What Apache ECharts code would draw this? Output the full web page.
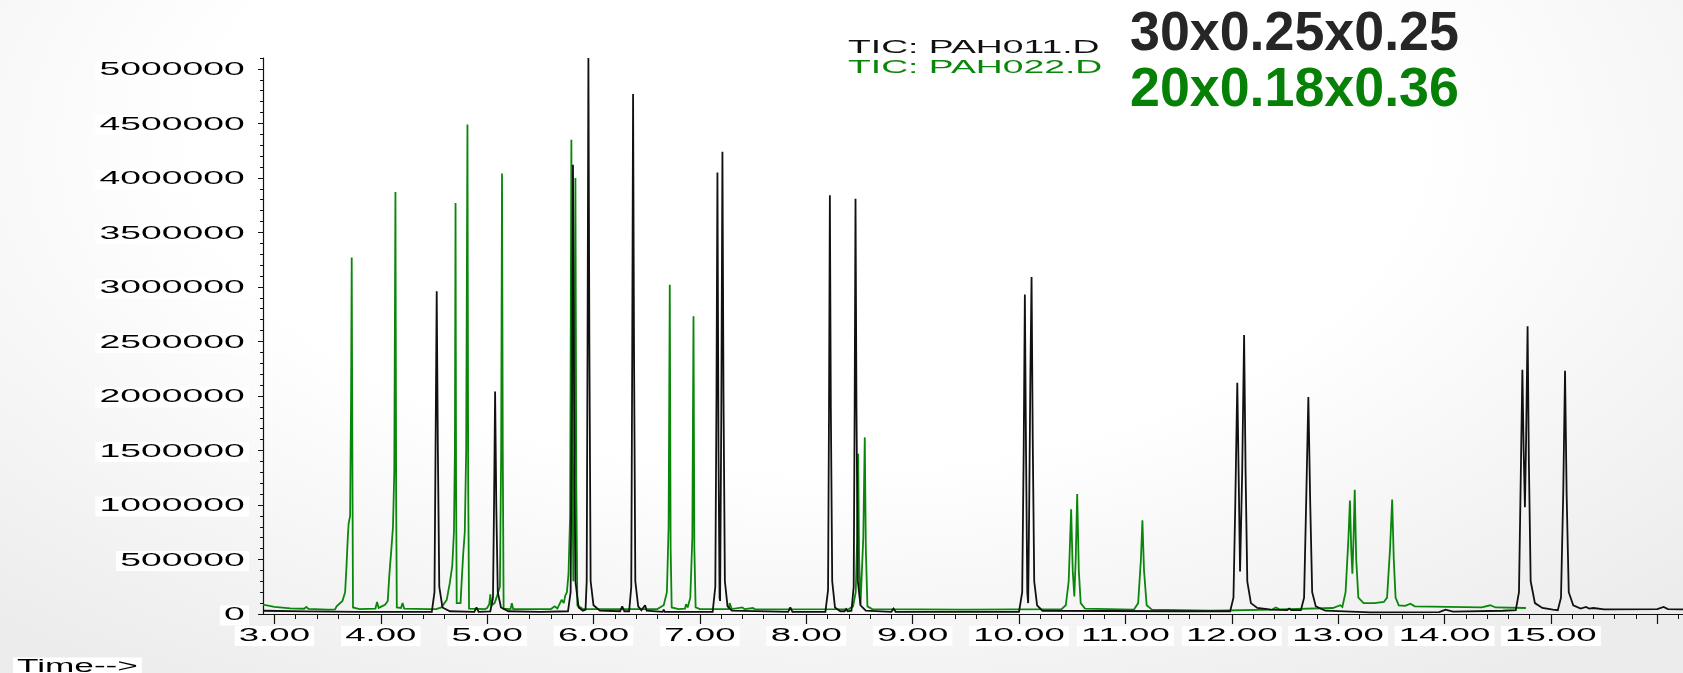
<!DOCTYPE html>
<html>
<head>
<meta charset="utf-8">
<script src="https://cdn.jsdelivr.net/npm/echarts@6/dist/echarts.min.js"></script>
<style>
  html, body { margin: 0; padding: 0; }
  #chart {
    width: 1683px; height: 673px;
    background: radial-gradient(ellipse 72% 95% at 48% 22%, #ffffff 50%, #ececec 100%);
  }
</style>
</head>
<body>
<div id="chart"></div>
<script>
// Retention-time axis (minutes)
const xMin = 2.893;
const xMax = 16.242;
const xMajorTicks = [3, 4, 5, 6, 7, 8, 9, 10, 11, 12, 13, 14, 15, 16];
const xTickLabels = ['3.00', '4.00', '5.00', '6.00', '7.00', '8.00', '9.00', '10.00', '11.00', '12.00', '13.00', '14.00', '15.00'];

// Abundance axis
const yMax = 5100000;
const yTickValues = [0, 500000, 1000000, 1500000, 2000000, 2500000, 3000000, 3500000, 4000000, 4500000, 5000000];
const yTickLabels = ['0', '500000', '1000000', '1500000', '2000000', '2500000', '3000000', '3500000', '4000000', '4500000', '5000000'];

// TIC: PAH011.D  (time, abundance)
const pah011 = [
  [2.893, 30000], [3.3, 24000], [3.8, 20000], [4.3, 20000], [4.48, 20000],
  [4.505, 200000], [4.515, 1500000], [4.526, 2960000], [4.537, 1500000], [4.55, 250000], [4.58, 60000], [4.65, 25000],
  [4.88, 20000], [4.9, 60000], [4.92, 20000],
  [5.03, 25000], [5.055, 150000], [5.065, 1000000], [5.075, 2040000], [5.086, 1000000], [5.1, 200000], [5.13, 60000], [5.2, 25000],
  [5.5, 20000], [5.76, 25000], [5.785, 200000], [5.797, 2000000], [5.807, 4120000], [5.817, 2000000], [5.83, 300000], [5.86, 60000], [5.9, 30000],
  [5.925, 40000], [5.936, 300000], [5.944, 2500000], [5.952, 5100000], [5.961, 2500000], [5.973, 300000], [6.0, 80000], [6.06, 30000],
  [6.25, 25000], [6.27, 70000], [6.29, 25000],
  [6.335, 25000], [6.355, 250000], [6.364, 2400000], [6.372, 4770000], [6.381, 2400000], [6.393, 300000], [6.42, 70000], [6.45, 35000],
  [6.468, 30000], [6.485, 80000], [6.5, 30000],
  [6.65, 20000], [6.66, 40000], [6.67, 20000], [7.12, 20000],
  [7.145, 250000], [7.156, 2000000], [7.165, 4050000], [7.175, 1500000], [7.185, 150000], [7.19, 120000],
  [7.201, 1800000], [7.212, 4240000], [7.222, 2000000], [7.235, 300000], [7.26, 70000], [7.3, 30000],
  [7.83, 20000], [7.85, 60000], [7.87, 20000],
  [8.18, 20000], [8.205, 220000], [8.214, 1900000], [8.222, 3840000], [8.231, 1900000], [8.244, 300000], [8.27, 60000], [8.32, 25000],
  [8.36, 25000], [8.375, 45000], [8.39, 25000],
  [8.425, 30000], [8.446, 250000], [8.455, 1900000], [8.463, 3810000], [8.472, 1900000], [8.485, 300000], [8.51, 80000], [8.56, 30000],
  [8.8, 20000], [8.82, 50000], [8.84, 20000],
  [10.0, 20000], [10.03, 200000], [10.044, 1500000], [10.055, 2930000], [10.066, 1500000], [10.078, 200000], [10.086, 100000],
  [10.096, 1000000], [10.107, 2200000], [10.118, 3090000], [10.129, 1600000], [10.143, 300000], [10.17, 80000], [10.22, 30000],
  [11.5, 25000], [11.985, 25000],
  [12.016, 150000], [12.033, 1000000], [12.052, 2120000], [12.066, 1200000], [12.078, 390000], [12.098, 1300000], [12.116, 2560000],
  [12.13, 1300000], [12.146, 300000], [12.18, 100000], [12.24, 55000], [12.37, 40000],
  [12.52, 35000], [12.54, 50000], [12.56, 35000],
  [12.65, 35000], [12.68, 150000], [12.699, 1000000], [12.72, 1990000], [12.738, 1000000], [12.756, 200000], [12.79, 70000], [12.88, 30000],
  [13.3, 15000], [13.95, 18000], [14.01, 40000], [14.08, 22000], [14.55, 30000], [14.67, 35000],
  [14.7, 200000], [14.716, 1200000], [14.732, 2240000], [14.744, 1500000], [14.756, 980000], [14.767, 1600000], [14.781, 2640000],
  [14.793, 1400000], [14.81, 300000], [14.85, 100000], [14.92, 55000], [15.02, 40000],
  [15.065, 35000], [15.095, 150000], [15.116, 1100000], [15.133, 2230000], [15.148, 1100000], [15.168, 200000], [15.21, 80000], [15.28, 50000],
  [15.33, 65000], [15.36, 50000], [15.4, 55000], [15.5, 42000], [16.0, 45000], [16.06, 65000], [16.1, 45000], [16.242, 42000]
];

// TIC: PAH022.D  (time, abundance)
const pah022 = [
  [2.893, 85000], [3.0, 65000], [3.15, 52000], [3.28, 48000], [3.3, 65000], [3.32, 46000], [3.5, 40000], [3.57, 42000],
  [3.585, 70000], [3.6, 60000], [3.64, 120000], [3.665, 200000], [3.677, 420000], [3.69, 700000], [3.698, 830000], [3.712, 900000],
  [3.721, 2000000], [3.727, 3270000], [3.733, 1500000], [3.739, 60000], [3.8, 45000],
  [3.95, 50000], [3.965, 110000], [3.98, 55000], [4.0, 65000], [4.04, 85000], [4.066, 120000], [4.08, 350000], [4.1, 600000],
  [4.115, 800000], [4.127, 1300000], [4.138, 3870000], [4.145, 1000000], [4.151, 60000], [4.19, 55000], [4.205, 100000], [4.22, 50000],
  [4.45, 45000], [4.52, 45000],
  [4.57, 60000], [4.62, 130000], [4.65, 290000], [4.672, 440000], [4.688, 750000], [4.697, 1500000], [4.703, 3770000], [4.708, 1200000],
  [4.714, 100000], [4.75, 100000], [4.76, 290000], [4.775, 550000], [4.79, 750000], [4.803, 1500000], [4.815, 4490000], [4.822, 1200000], [4.83, 50000],
  [4.98, 45000], [5.0, 55000], [5.02, 90000], [5.03, 180000], [5.04, 80000], [5.07, 100000], [5.088, 150000], [5.12, 250000],
  [5.132, 1500000], [5.14, 4040000], [5.147, 1500000], [5.155, 50000], [5.22, 45000], [5.232, 100000], [5.245, 45000],
  [5.6, 45000], [5.635, 70000], [5.66, 50000],
  [5.7, 130000], [5.72, 100000], [5.735, 170000], [5.75, 200000], [5.765, 370000], [5.78, 900000], [5.792, 4350000], [5.8, 1500000],
  [5.81, 300000], [5.82, 1500000], [5.83, 4000000], [5.838, 1200000], [5.848, 80000], [5.9, 45000],
  [6.14, 45000], [6.15, 60000], [6.16, 45000],
  [6.6, 45000], [6.66, 80000], [6.69, 200000], [6.706, 800000], [6.717, 3020000], [6.725, 600000], [6.735, 60000], [6.8, 45000],
  [6.86, 50000], [6.87, 90000], [6.885, 60000], [6.91, 150000], [6.929, 700000], [6.94, 2730000], [6.948, 600000], [6.96, 60000], [7.0, 45000],
  [7.27, 45000], [7.28, 100000], [7.3, 45000], [7.4, 60000], [7.42, 45000], [7.5, 55000], [7.52, 42000],
  [8.4, 45000], [8.44, 70000], [8.465, 200000], [8.479, 700000], [8.488, 1470000], [8.497, 500000], [8.51, 90000],
  [8.52, 100000], [8.536, 700000], [8.55, 1620000], [8.56, 600000], [8.575, 70000], [8.62, 45000],
  [9.5, 40000], [10.4, 45000], [10.44, 80000], [10.467, 300000], [10.49, 960000], [10.505, 400000], [10.52, 160000],
  [10.533, 500000], [10.547, 1100000], [10.562, 400000], [10.58, 100000], [10.62, 50000],
  [11.08, 40000], [11.12, 100000], [11.146, 500000], [11.16, 860000], [11.175, 400000], [11.2, 80000], [11.25, 40000],
  [11.8, 30000], [12.38, 40000], [12.414, 60000], [12.45, 42000], [12.95, 55000], [13.02, 80000], [13.04, 65000],
  [13.07, 200000], [13.097, 700000], [13.111, 1040000], [13.123, 600000], [13.134, 370000], [13.145, 700000], [13.156, 1140000],
  [13.17, 500000], [13.19, 150000], [13.24, 100000], [13.34, 100000], [13.43, 110000],
  [13.46, 150000], [13.488, 600000], [13.508, 1050000], [13.523, 500000], [13.54, 150000], [13.57, 80000], [13.63, 75000],
  [13.68, 95000], [13.72, 70000], [14.35, 60000], [14.43, 80000], [14.48, 60000], [14.765, 55000]
];

// Minor ticks: five subdivisions per major interval
const xMinorTicks = [];
xMajorTicks.forEach(function (t) {
  for (let k = 1; k < 5; k++) {
    const v = +(t + k * 0.2).toFixed(2);
    if (v <= xMax) xMinorTicks.push(v);
  }
});
const yMinorTicks = [];
for (let i = 0; i < yTickValues.length; i++) {
  for (let k = 1; k < 5; k++) {
    const v = yTickValues[i] + k * 100000;
    if (v <= yMax) yMinorTicks.push(v);
  }
}

const INK = '#111111';
const GREEN = '#0a870a';
const LABEL_FONT = '17.6px "Liberation Sans", Arial, sans-serif';
const BIG_FONT = 'bold 56px "Liberation Sans", Arial, sans-serif';

const chart = echarts.init(document.getElementById('chart'), null, { renderer: 'canvas' });

const hiddenLabel = { show: false };
chart.setOption({
  backgroundColor: 'transparent',
  animation: false,
  grid: { left: 263, right: 0, top: 58, bottom: 59, containLabel: false },
  xAxis: [
    {
      type: 'value', min: xMin, max: xMax,
      axisLine: { show: true, onZero: false, lineStyle: { color: INK, width: 1 } },
      axisTick: { show: true, customValues: xMajorTicks, length: 10, lineStyle: { color: INK, width: 1.2 } },
      axisLabel: hiddenLabel, splitLine: { show: false }
    },
    {
      type: 'value', min: xMin, max: xMax, position: 'bottom', offset: 0,
      axisLine: { show: false },
      axisTick: { show: true, customValues: xMinorTicks, length: 5, lineStyle: { color: INK, width: 1 } },
      axisLabel: hiddenLabel, splitLine: { show: false }
    }
  ],
  yAxis: [
    {
      type: 'value', min: 0, max: yMax, position: 'left',
      axisLine: { show: true, onZero: false, lineStyle: { color: INK, width: 1.2 } },
      axisTick: { show: true, customValues: yTickValues, length: 5, lineStyle: { color: INK, width: 1 } },
      axisLabel: hiddenLabel, splitLine: { show: false }
    },
    {
      type: 'value', min: 0, max: yMax, position: 'left', offset: 0,
      axisLine: { show: false },
      axisTick: { show: true, customValues: yMinorTicks, length: 3, lineStyle: { color: INK, width: 1 } },
      axisLabel: hiddenLabel, splitLine: { show: false }
    }
  ],
  series: [
    {
      name: 'TIC: PAH022.D', type: 'line', xAxisIndex: 0, yAxisIndex: 0,
      data: pah022, showSymbol: false, symbol: 'none', clip: true,
      lineStyle: { color: GREEN, width: 1.8, join: 'miter', miterLimit: 2 }, z: 2
    },
    {
      name: 'TIC: PAH011.D', type: 'line', xAxisIndex: 0, yAxisIndex: 0,
      data: pah011, showSymbol: false, symbol: 'none', clip: true,
      lineStyle: { color: INK, width: 1.8, join: 'miter', miterLimit: 2 }, z: 3
    }
  ]
});

// Wide-set labels: positioned through the axis scales, stretched horizontally
function stretchedText(text, x, y, align, sx, fill, font, bg) {
  const style = {
    text: text, fill: fill, font: font,
    align: align, textAlign: align, verticalAlign: 'middle', textVerticalAlign: 'middle'
  };
  if (bg) { style.backgroundColor = bg; style.padding = [1, 2]; }
  return { type: 'text', x: x, y: y, scaleX: sx, scaleY: 1, z: 100, silent: true, style: style };
}

const elements = [];
const axisY = chart.convertToPixel({ yAxisIndex: 0 }, 0);

yTickValues.forEach(function (v, i) {
  const py = chart.convertToPixel({ yAxisIndex: 0 }, v);
  elements.push(stretchedText(yTickLabels[i], 249, py + 1.5, 'right', 2.12, '#000', LABEL_FONT, '#ffffff'));
});
xTickLabels.forEach(function (lab, i) {
  const px = chart.convertToPixel({ xAxisIndex: 0 }, xMajorTicks[i]);
  elements.push(stretchedText(lab, px, axisY + 22, 'center', 2.08, '#000', LABEL_FONT, '#ffffff'));
});
elements.push(stretchedText('Time-->', 13, 667.5, 'left', 2.0, '#000', LABEL_FONT, '#ffffff'));

// Trace names and column dimensions
elements.push(stretchedText('TIC: PAH011.D', 848, 48, 'left', 2.12, '#111', LABEL_FONT, null));
elements.push(stretchedText('TIC: PAH022.D', 848, 68.5, 'left', 2.12, GREEN, LABEL_FONT, null));
elements.push(stretchedText('30x0.25x0.25', 1130, 35, 'left', 0.96, '#262626', BIG_FONT, null));
elements.push(stretchedText('20x0.18x0.36', 1130, 91, 'left', 0.96, '#068006', BIG_FONT, null));

chart.setOption({ graphic: { elements: elements } });
</script>
</body>
</html>
